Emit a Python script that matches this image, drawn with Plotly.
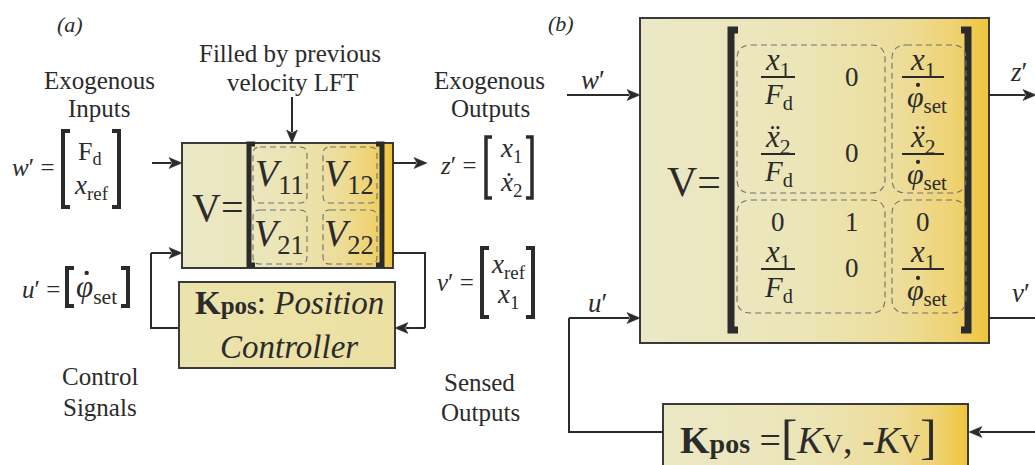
import numpy as np
import plotly.graph_objects as go

W, H = 1035, 465
INK = "#2b2b2b"
SERIF = "Liberation Serif"

# ---------------- text content ----------------
panel_tags = ["(a)", "(b)"]
a_top_note = ["Filled by previous", "velocity LFT"]
a_in_title = ["Exogenous", "Inputs"]
a_out_title = ["Exogenous", "Outputs"]
a_ctrl_title = ["Control", "Signals"]
a_sens_title = ["Sensed", "Outputs"]
a_blocks = ["<i>V</i><sub>11</sub>", "<i>V</i><sub>12</sub>",
            "<i>V</i><sub>21</sub>", "<i>V</i><sub>22</sub>"]
w_vec = ["F<sub>d</sub>", "<i>x</i><sub>ref</sub>"]
z_vec = ["<i>x</i><sub>1</sub>", "<i>x\u0307</i><sub>2</sub>"]
u_vec = ["<i>\u03c6</i><sub>set</sub>"]          # dot accent drawn separately
v_vec = ["<i>x</i><sub>ref</sub>", "<i>x</i><sub>1</sub>"]
sig_names = ["<i>w</i>\u2032 =", "<i>z</i>\u2032 =", "<i>u</i>\u2032 =", "<i>v</i>\u2032 ="]
b_sig_names = ["<i>w</i>\u2032", "<i>u</i>\u2032", "<i>z</i>\u2032", "<i>v</i>\u2032"]
X1 = "<i>x</i><sub>1</sub>"
X2DD = "<i>x\u0308</i><sub>2</sub>"
FD = "<i>F</i><sub>d</sub>"
PHI = "<i>\u03c6</i><sub>set</sub>"             # dot accent drawn separately
# matrix of panel (b): each entry is a scalar or (numerator, denominator)
b_row1 = [(X1, FD), "0", (X1, PHI)]
b_row2 = [(X2DD, FD), "0", (X2DD, PHI)]
b_row3 = ["0", "1", "0"]
b_row4 = [(X1, FD), "0", (X1, PHI)]
kpos_a = ["<b>K</b><b><span style='font-size:25px'>pos</span></b>: <i>Position</i>",
          "<i>Controller</i>"]
kpos_b = ("<b>K</b><b><span style='font-size:28px'>pos</span></b> ="
          "<span style='font-size:49px'>[</span><i>K</i><span style='font-size:28px'>V</span>, "
          "-<i>K</i><span style='font-size:28px'>V</span><span style='font-size:49px'>]</span>")

# ---------------- styles ----------------
main_scale = [[0, "#ebe8c6"], [0.45, "#ebe5b8"], [0.75, "#eddd9a"],
              [0.9, "#efd272"], [1, "#efc43a"]]
kpa_scale = [[0, "#ebe3ad"], [1, "#ece1a2"]]

fig = go.Figure()
shapes = []
annos = []


def gradient(x0, x1, y0, y1, scale, n=140):
    xs = np.linspace(x0, x1, n + 1)
    t = (np.arange(n) + 0.5) / n
    fig.add_trace(go.Heatmap(x=xs, y=[y0, y1], z=[t], colorscale=scale, zmin=0, zmax=1,
                             showscale=False, hoverinfo="skip"))


def box(x0, y0, x1, y1, w=2):
    shapes.append(dict(type="rect", x0=x0, y0=y0, x1=x1, y1=y1,
                       line=dict(color="#3a3a3a", width=w), fillcolor="rgba(0,0,0,0)",
                       layer="above"))


def rrect(x0, y0, x1, y1, r=7):
    p = (f"M{x0+r},{y0} L{x1-r},{y0} Q{x1},{y0} {x1},{y0+r} L{x1},{y1-r} "
         f"Q{x1},{y1} {x1-r},{y1} L{x0+r},{y1} Q{x0},{y1} {x0},{y1-r} "
         f"L{x0},{y0+r} Q{x0},{y0} {x0+r},{y0} Z")
    shapes.append(dict(type="path", path=p, line=dict(color="#707070", width=1.1, dash="6px,4px"),
                       fillcolor="rgba(0,0,0,0)", layer="above"))


def bracket(x, y0, y1, side, w, serif):
    s = serif if side == "l" else -serif
    p = f"M{x+s},{y0} L{x},{y0} L{x},{y1} L{x+s},{y1}"
    shapes.append(dict(type="path", path=p, line=dict(color=INK, width=w), layer="above"))


def polyline(pts, w=2):
    p = "M" + " L".join(f"{x},{y}" for x, y in pts)
    shapes.append(dict(type="path", path=p, line=dict(color=INK, width=w), layer="above"))


def arrow(x0, y0, x1, y1, L=13, hw=5.5, w=2):
    d = np.hypot(x1 - x0, y1 - y0)
    ux, uy = (x1 - x0) / d, (y1 - y0) / d
    bx, by = x1 - ux * L, y1 - uy * L
    polyline([(x0, y0), (bx + ux * 2, by + uy * 2)], w)
    p = (f"M{x1},{y1} L{bx - uy*hw},{by + ux*hw} L{bx + ux*3},{by + uy*3} "
         f"L{bx + uy*hw},{by - ux*hw} Z")
    shapes.append(dict(type="path", path=p, fillcolor=INK, line=dict(color=INK, width=0.5),
                       layer="above"))


def dot(x, y, r=1.6):
    shapes.append(dict(type="circle", x0=x - r, x1=x + r, y0=y - r, y1=y + r,
                       fillcolor=INK, line=dict(width=0), layer="above"))


def txt(x, y, s, size=24, anchor="center"):
    annos.append(dict(x=x, y=y, xref="x", yref="y", text=s, showarrow=False,
                      xanchor=anchor, yanchor="middle",
                      font=dict(family=SERIF, size=size, color=INK)))


def phi_set(cx, cy, size, lift=0.52):
    txt(cx, cy, PHI, size)
    dot(cx - 0.30 * size, cy - lift * size, 0.07 * size)


def hline(x0, x1, y, w=2):
    shapes.append(dict(type="line", x0=x0, x1=x1, y0=y, y1=y,
                       line=dict(color=INK, width=w), layer="above"))


# ================= panel (a) =================
txt(70, 24, f"<i>{panel_tags[0]}</i>", 22)
txt(290, 53, a_top_note[0], 25)
txt(292, 82, a_top_note[1], 25)
txt(99, 80, a_in_title[0], 25)
txt(99, 108, a_in_title[1], 25)
txt(489, 80, a_out_title[0], 25)
txt(490, 108, a_out_title[1], 25)
txt(100, 376, a_ctrl_title[0], 25)
txt(100, 407, a_ctrl_title[1], 25)
txt(479, 382, a_sens_title[0], 25)
txt(480, 412, a_sens_title[1], 25)

# main V block
gradient(182, 393, 143, 268, main_scale)
box(182, 143, 393, 268)
txt(217, 207, "V=", 40)
bracket(249, 144, 265, "l", 5, 6)
bracket(382, 144, 265, "r", 5, 6)
for (cx, cy), s in zip([(279, 176), (349, 176), (279, 236), (349, 236)], a_blocks):
    txt(cx, cy, s, 38)
rrect(253, 147, 307, 203)
rrect(323, 147, 377, 203)
rrect(253, 210, 307, 264)
rrect(323, 210, 377, 264)

# Kpos block (a)
gradient(179, 395, 282, 368, kpa_scale)
box(179, 282, 395, 368)
txt(289, 303, kpos_a[0], 33)
txt(289, 347, kpos_a[1], 33)

# arrows / lines (a)
arrow(292, 97, 292, 143)
arrow(152, 163, 182, 163)
arrow(393, 163, 427, 163)
polyline([(393, 253), (425, 253), (425, 328)])
arrow(425, 328, 395, 328)
polyline([(179, 328), (151, 328), (151, 253)])
arrow(151, 253, 182, 253)

# signal vectors (a)
txt(57, 167, sig_names[0], 25, "right")
bracket(63, 131, 207, "l", 4, 7)
bracket(119, 131, 207, "r", 4, 7)
txt(90, 153, w_vec[0], 26)
txt(91, 187, w_vec[1], 27)

txt(479, 165, sig_names[1], 25, "right")
bracket(486, 137, 198, "l", 3.5, 6)
bracket(532, 137, 198, "r", 3.5, 6)
txt(511, 150, z_vec[0], 27)
txt(511, 184, z_vec[1], 27)

txt(62, 289, sig_names[2], 25, "right")
bracket(67, 268, 306, "l", 4, 7)
bracket(128, 268, 306, "r", 4, 7)
phi_set(96, 289, 31)

txt(476, 282, sig_names[3], 25, "right")
bracket(482, 248, 317, "l", 4, 7)
bracket(533, 248, 317, "r", 4, 7)
txt(508, 266, v_vec[0], 27)
txt(508, 296, v_vec[1], 27)

# ================= panel (b) =================
txt(561, 23, f"<i>{panel_tags[1]}</i>", 22)

gradient(640, 989, 18, 343, main_scale)
box(640, 18, 989, 343)
txt(694, 182, "V=", 42)
bracket(731, 30, 330, "l", 7, 7)
bracket(968, 30, 330, "r", 7, 7)
rrect(737, 45, 885, 193, 14)
rrect(892, 45, 966, 193, 14)
rrect(737, 200, 885, 313, 14)
rrect(892, 200, 966, 313, 14)

col_x = [778, 852, 923]
frac_half = [17, 0, 21]
row_geo = [  # (numerator y, fraction line y, denominator y, scalar y)
    (62, 77, 96, 77),
    (139, 154, 173, 153),
    (222, 222, 222, 222),
    (254, 269, 289, 268),
]
for row, (ny, ly, dy, sy) in zip([b_row1, b_row2, b_row3, b_row4], row_geo):
    for ci, entry in enumerate(row):
        cx = col_x[ci]
        if isinstance(entry, tuple):
            txt(cx, ny, entry[0], 31)
            hline(cx - frac_half[ci], cx + frac_half[ci], ly, 2)
            if entry[1] == PHI:
                phi_set(cx + 4, dy + 3, 30, 0.47)
            else:
                txt(cx, dy, entry[1], 29)
        else:
            txt(cx, sy, entry, 27)

# Kpos block (b)
gradient(663, 968, 404, 470, main_scale)
box(663, 404, 968, 470)
txt(808, 436, kpos_b, 38)

# arrows / lines (b)
txt(593, 80, b_sig_names[0], 27)
arrow(567, 95, 640, 95)
txt(597, 303, b_sig_names[1], 27)
polyline([(663, 432), (569, 432), (569, 318)])
arrow(569, 318, 640, 318)
txt(1018, 72, b_sig_names[2], 27)
arrow(989, 95, 1036, 95)
txt(1021, 293, b_sig_names[3], 27)
polyline([(989, 318), (1036, 318)])
arrow(1040, 432, 969, 432)

fig.update_layout(
    width=W, height=H, margin=dict(l=0, r=0, t=0, b=0),
    paper_bgcolor="white", plot_bgcolor="white",
    xaxis=dict(range=[0, W], visible=False, fixedrange=True),
    yaxis=dict(range=[H, 0], visible=False, fixedrange=True),
    shapes=shapes, annotations=annos, showlegend=False,
    font=dict(family=SERIF, color=INK),
)
fig.write_html("out.html")
